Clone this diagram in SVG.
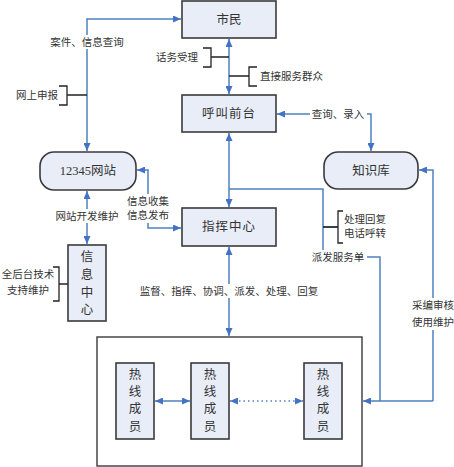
<svg xmlns="http://www.w3.org/2000/svg" width="454" height="467" viewBox="0 0 454 467">
<defs>
<marker id="ah" viewBox="0 0 8 7" refX="8" refY="3.5" markerWidth="8" markerHeight="7" markerUnits="userSpaceOnUse" orient="auto-start-reverse">
<path d="M0,0 L8,3.5 L0,7 z" fill="#4472c4"/>
</marker>
</defs>
<style>
.box{fill:#e8edf8;stroke:#3a3a3a;stroke-width:1.6}
.frame{fill:none;stroke:#3a3a3a;stroke-width:1.4}
.t{font-family:"Liberation Serif","Noto Sans CJK SC",serif;font-size:12.5px;fill:#333;text-anchor:middle;dominant-baseline:central}
.s{font-family:"Liberation Serif","Noto Sans CJK SC",serif;font-size:10.5px;fill:#333;dominant-baseline:central}
.c{fill:none;stroke:#4f81bd;stroke-width:1.5}
.a{marker-start:url(#ah);marker-end:url(#ah)}
.e{marker-end:url(#ah)}
.b{fill:none;stroke:#222;stroke-width:1.3}
.bg{fill:#ffffff}
</style>
<rect width="454" height="467" fill="#ffffff"/>
<g id="rexian-group"><rect class="frame" x="97" y="337" width="265" height="129"/></g>
<g id="connectors">
<path class="c a" d="M229,39 V94"/>
<path class="c a" d="M87,151 V19 H181"/>
<path class="c a" d="M371,151 V114 H277"/>
<path class="c a" d="M229,133 V207"/>
<path class="c" d="M229,189 H323 V257 H380 V401"/>
<path class="c e" d="M433,401 H363"/>
<path class="c e" d="M433,401 V170 H419"/>
<path class="c" d="M323,227 H338"/>
<path class="c a" d="M137,170 H148 V228 H181"/>
<path class="c a" d="M87,191 V244"/>
<path class="c a" d="M229,247 V336"/>
<path class="c a" d="M155,401 H190"/>
<path class="c a" d="M230,401 H303" stroke="#8aa6d2" stroke-dasharray="1.5,3" stroke-width="1"/>
<!-- brackets -->
<path class="b" d="M59,86 H67 V105 H59 M67,95 H87"/>
<path class="b" d="M203,48 H211 V67 H203 M211,57 H229"/>
<path class="b" d="M257,67 H249 V86 H257 M249,76 H229"/>
<path class="b" d="M343,211 H338 V243 H343 M338,227 H323"/>
<path class="b" d="M53,267 H59 V301 H53 M59,284 H68"/>
<!-- label backgrounds -->
<rect class="bg" x="49" y="35" width="77" height="14"/>
<rect class="bg" x="310" y="107" width="57" height="14"/>
<rect class="bg" x="310" y="250" width="57" height="14"/>
<rect class="bg" x="125" y="194" width="47" height="29"/>
<rect class="bg" x="53" y="209" width="68" height="14"/>
<rect class="bg" x="137" y="284" width="185" height="14"/>
<rect class="bg" x="410" y="298" width="46" height="32"/>
<text class="s" x="87" y="42" text-anchor="middle">案件、信息查询</text>
<text class="s" x="58" y="95" text-anchor="end">网上申报</text>
<text class="s" x="198" y="57" text-anchor="end">话务受理</text>
<text class="s" x="260" y="76">直接服务群众</text>
<text class="s" x="338" y="114" text-anchor="middle">查询、录入</text>
<text class="s" x="344" y="219">处理回复</text>
<text class="s" x="344" y="233">电话呼转</text>
<text class="s" x="338" y="257" text-anchor="middle">派发服务单</text>
<text class="s" x="148" y="201" text-anchor="middle">信息收集</text>
<text class="s" x="148" y="215" text-anchor="middle">信息发布</text>
<text class="s" x="87" y="216" text-anchor="middle">网站开发维护</text>
<text class="s" x="28" y="274" text-anchor="middle">全后台技术</text>
<text class="s" x="28" y="290" text-anchor="middle">支持维护</text>
<text class="s" x="229" y="291" text-anchor="middle">监督、指挥、协调、派发、处理、回复</text>
<text class="s" x="433" y="305" text-anchor="middle">采编审核</text>
<text class="s" x="433" y="322" text-anchor="middle">使用维护</text>
</g>
<g id="shimin"><rect class="box" x="182" y="1" width="94" height="37"/><text class="t" x="229" y="20">市民</text></g>
<g id="hujiao"><rect class="box" x="182" y="95" width="94" height="37"/><text class="t" x="229" y="114" letter-spacing="1">呼叫前台</text></g>
<g id="wangzhan"><rect class="box" x="40" y="152" width="96" height="38" rx="14"/><text class="t" x="88" y="171">12345网站</text></g>
<g id="zhishiku"><rect class="box" x="324" y="152" width="94" height="37" rx="14"/><text class="t" x="371" y="171">知识库</text></g>
<g id="zhihui"><rect class="box" x="182" y="208" width="94" height="38"/><text class="t" x="229" y="227" letter-spacing="1">指挥中心</text></g>
<g id="xinxi"><rect class="box" x="68" y="245" width="38" height="76"/>
<text class="t" x="87" y="257">信</text><text class="t" x="87" y="275">息</text><text class="t" x="87" y="293">中</text><text class="t" x="87" y="310">心</text></g>
<g id="rexian1"><rect class="box" x="116" y="363" width="38" height="76"/>
<text class="t" x="135" y="375">热</text><text class="t" x="135" y="392">线</text><text class="t" x="135" y="409">成</text><text class="t" x="135" y="427">员</text></g>
<g id="rexian2"><rect class="box" x="191" y="363" width="38" height="76"/>
<text class="t" x="210" y="375">热</text><text class="t" x="210" y="392">线</text><text class="t" x="210" y="409">成</text><text class="t" x="210" y="427">员</text></g>
<g id="rexian3"><rect class="box" x="304" y="363" width="38" height="76"/>
<text class="t" x="323" y="375">热</text><text class="t" x="323" y="392">线</text><text class="t" x="323" y="409">成</text><text class="t" x="323" y="427">员</text></g>
</svg>
